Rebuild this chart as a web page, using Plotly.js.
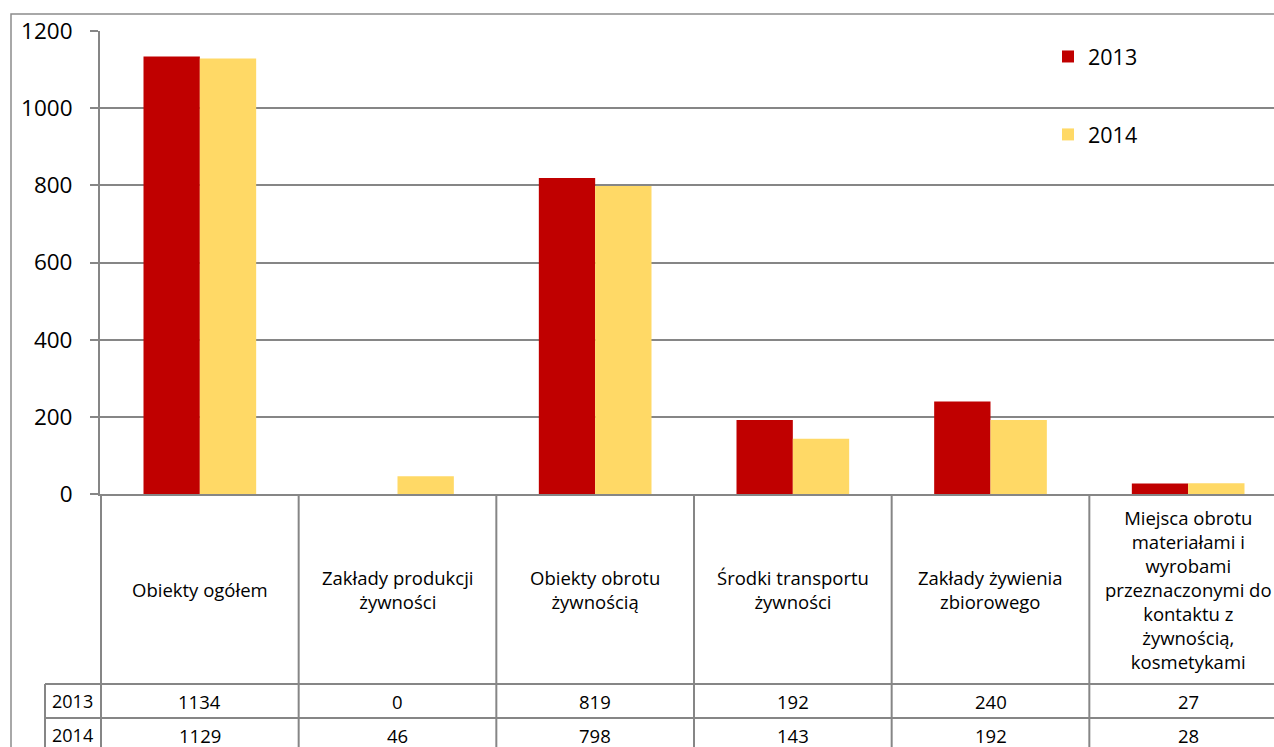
<!DOCTYPE html>
<html>
<head>
<meta charset="utf-8">
<script src="https://cdn.plot.ly/plotly-3.0.1.min.js"></script>
<style>
html,body{margin:0;padding:0;background:#fff;overflow:hidden;}
#wrap{width:1274px;height:747px;overflow:hidden;}
#chart{width:1300px;height:747px;}
</style>
</head>
<body>
<div id="wrap"><div id="chart"></div></div>
<script>
// ---- data ----
const categories = [
  "Obiekty ogółem",
  "Zakłady produkcji<br>żywności",
  "Obiekty obrotu<br>żywnością",
  "Środki transportu<br>żywności",
  "Zakłady żywienia<br>zbiorowego",
  "Miejsca obrotu<br>materiałami i<br>wyrobami<br>przeznaczonymi do<br>kontaktu z<br>żywnością,<br>kosmetykami"
];
const seriesNames = ["2013", "2014"];
const values2013 = [1134, 0, 819, 192, 240, 27];
const values2014 = [1129, 46, 798, 143, 192, 28];
const yTicks = [0, 200, 400, 600, 800, 1000, 1200];

// ---- layout helpers (pixel geometry) ----
const W = 1300, H = 747;
const L = 100, R = 12, T = 31, B = 253;
const plotBottom = H - B;          // 494
const plotH = H - T - B;           // 463
const plotW = W - L - R;           // 1188
const py = p => (plotBottom - p) / plotH;   // pixel y -> paper y
const px = p => (p - L) / plotW;            // pixel x -> paper x

const gray = "#868686";
const font = "'Open Sans', 'Noto Sans', sans-serif";

const traces = [
  {type: "bar", name: seriesNames[0], x: categories, y: values2013,
   marker: {color: "#C00000"}, legendgroup: "a", hoverinfo: "none"},
  {type: "bar", name: seriesNames[1], x: categories, y: values2014,
   marker: {color: "#FFD966"}, legendgroup: "b", hoverinfo: "none"}
];

const shapes = [];
const annotations = [];
const n = categories.length;
const rowTop = 684, rowMid = 718, rowBot = 752;
const yearLeft = px(45);

// outer chart border
shapes.push({type: "rect", xref: "paper", yref: "paper",
  x0: px(11), x1: 1.2, y0: -1, y1: py(14), line: {color: "#8c8c8c", width: 1.5}, layer: "below"});

// vertical table lines
for (let i = 0; i <= n; i++) {
  shapes.push({type: "line", xref: "x", yref: "paper", x0: i - 0.5, x1: i - 0.5,
    y0: py(plotBottom), y1: -1, line: {color: gray, width: 2}});
}
shapes.push({type: "line", xref: "paper", yref: "paper", x0: yearLeft, x1: yearLeft,
  y0: py(rowTop), y1: -1, line: {color: gray, width: 2}});
// horizontal table lines
[rowTop, rowMid, rowBot].forEach(p => {
  shapes.push({type: "line", xref: "paper", yref: "paper", x0: yearLeft, x1: 1.2,
    y0: py(p), y1: py(p), line: {color: gray, width: 2}});
});

// category labels
categories.forEach((c, i) => {
  annotations.push({xref: "x", yref: "paper", x: i, y: py((plotBottom + rowTop) / 2),
    text: c, showarrow: false, xanchor: "center", yanchor: "middle",
    font: {family: font, size: 18.5, color: "#000"}});
});
// table values
[[values2013, seriesNames[0], (rowTop + rowMid) / 2],
 [values2014, seriesNames[1], (rowMid + rowBot) / 2]].forEach(([vals, name, yc]) => {
  annotations.push({xref: "paper", yref: "paper", x: px(72), y: py(yc), text: name,
    showarrow: false, xanchor: "center", yanchor: "middle",
    font: {family: font, size: 18, color: "#000"}});
  vals.forEach((v, i) => {
    annotations.push({xref: "x", yref: "paper", x: i, y: py(yc), text: String(v),
      showarrow: false, xanchor: "center", yanchor: "middle",
      font: {family: font, size: 18.5, color: "#000"}});
  });
});

const layout = {
  width: W, height: H,
  margin: {l: L, r: R, t: T, b: B, pad: 0},
  paper_bgcolor: "#fff", plot_bgcolor: "#fff",
  barmode: "group", bargap: 0.43, bargroupgap: 0,
  showlegend: true,
  legend: {x: px(1048), y: py(36), xanchor: "left", yanchor: "top",
    tracegroupgap: 47, font: {family: font, size: 21.5, color: "#000"},
    bgcolor: "rgba(0,0,0,0)", traceorder: "grouped"},
  xaxis: {type: "category", showticklabels: false, ticks: "", showgrid: false,
    showline: true, linecolor: gray, linewidth: 2, zeroline: false, fixedrange: true},
  yaxis: {range: [0, 1200], tickvals: yTicks, ticktext: yTicks.map(String),
    ticks: "outside", ticklen: 8, tickcolor: gray, tickwidth: 2,
    showline: true, linecolor: gray, linewidth: 2,
    showgrid: true, gridcolor: gray, gridwidth: 2, zeroline: false,
    tickfont: {family: font, size: 22.5, color: "#000"}, ticklabelstandoff: 13,
    fixedrange: true},
  shapes: shapes,
  annotations: annotations
};

Plotly.newPlot("chart", traces, layout, {displayModeBar: false, staticPlot: true});
</script>
</body>
</html>
